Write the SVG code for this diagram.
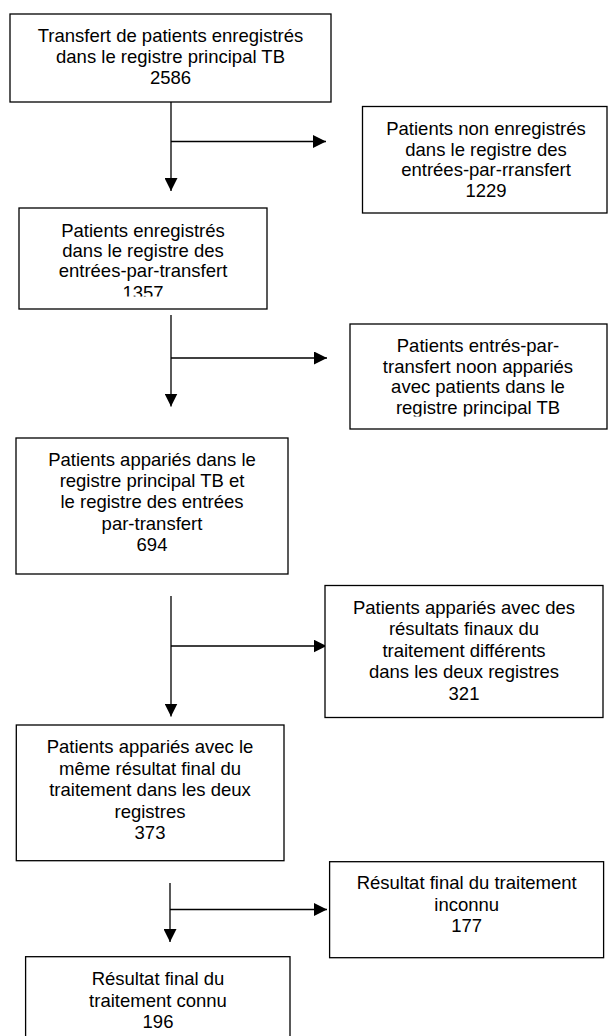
<svg xmlns="http://www.w3.org/2000/svg" width="608" height="1036" viewBox="0 0 608 1036">
<style>
.box{fill:#fff;stroke:#000;stroke-width:1.3}
.t{font-family:"Liberation Sans",Arial,sans-serif;font-size:18.5px;fill:#000;text-anchor:middle}
.c{fill:none;stroke:#000;stroke-width:1.3}
</style>
<defs>
<marker id="ah" markerWidth="13" markerHeight="13" refX="13" refY="6.5" orient="auto" markerUnits="userSpaceOnUse"><path d="M0,0 L13,6.5 L0,13 z" fill="#000"/></marker>
<clipPath id="clip3"><rect x="19" y="208" width="248" height="88.5"/></clipPath>
<clipPath id="clip4"><rect x="350" y="324" width="257" height="92.5"/></clipPath>
</defs>
<rect width="608" height="1036" fill="#fff"/>
<g id="connectors">
<path class="c" d="M171,102 V191" marker-end="url(#ah)"/>
<path class="c" d="M171,141.5 H326" marker-end="url(#ah)"/>
<path class="c" d="M171,315 V406.5" marker-end="url(#ah)"/>
<path class="c" d="M171,358 H327" marker-end="url(#ah)"/>
<path class="c" d="M171,596 V716.5" marker-end="url(#ah)"/>
<path class="c" d="M171,646 H326.5" marker-end="url(#ah)"/>
<path class="c" d="M170,883 V942" marker-end="url(#ah)"/>
<path class="c" d="M170,909.5 H327" marker-end="url(#ah)"/>
</g>
<g id="n1">
<rect class="box" x="10" y="14" width="321" height="88"/>
<text class="t"><tspan x="170.5" y="42">Transfert de patients enregistrés</tspan><tspan x="170.5" y="63">dans le registre principal TB</tspan><tspan x="170.5" y="84">2586</tspan></text>
</g>
<g id="n2">
<rect class="box" x="362.5" y="106.5" width="244.5" height="106.5"/>
<text class="t"><tspan x="486" y="135">Patients non enregistrés</tspan><tspan x="486" y="155.5">dans le registre des</tspan><tspan x="486" y="176">entrées-par-rransfert</tspan><tspan x="486" y="196.5">1229</tspan></text>
</g>
<g id="n3">
<rect class="box" x="19" y="208" width="248" height="101"/>
<text class="t" clip-path="url(#clip3)"><tspan x="143" y="236.7">Patients enregistrés</tspan><tspan x="143" y="257">dans le registre des</tspan><tspan x="143" y="277.3">entrées-par-transfert</tspan><tspan x="143" y="299">1357</tspan></text>
</g>
<g id="n4">
<rect class="box" x="350" y="324" width="257" height="105"/>
<text class="t" clip-path="url(#clip4)"><tspan x="478" y="352">Patients entrés-par-</tspan><tspan x="478" y="372.5">transfert noon appariés</tspan><tspan x="478" y="393">avec patients dans le</tspan><tspan x="478" y="413.5">registre principal TB</tspan></text>
</g>
<g id="n5">
<rect class="box" x="16" y="438" width="272" height="136"/>
<text class="t"><tspan x="152" y="465.5">Patients appariés dans le</tspan><tspan x="152" y="487">registre principal TB et</tspan><tspan x="152" y="508">le registre des entrées</tspan><tspan x="152" y="529.5">par-transfert</tspan><tspan x="152" y="551">694</tspan></text>
</g>
<g id="n6">
<rect class="box" x="325" y="585.5" width="278" height="132"/>
<text class="t"><tspan x="464" y="613.5">Patients appariés avec des</tspan><tspan x="464" y="635">résultats finaux du</tspan><tspan x="464" y="656.7">traitement différents</tspan><tspan x="464" y="678.3">dans les deux registres</tspan><tspan x="464" y="700">321</tspan></text>
</g>
<g id="n7">
<rect class="box" x="16.3" y="725" width="267.7" height="135.7"/>
<text class="t"><tspan x="150" y="753">Patients appariés avec le</tspan><tspan x="150" y="775">même résultat final du</tspan><tspan x="150" y="796">traitement dans les deux</tspan><tspan x="150" y="817.5">registres</tspan><tspan x="150" y="839">373</tspan></text>
</g>
<g id="n8">
<rect class="box" x="329.6" y="861.7" width="274" height="96"/>
<text class="t"><tspan x="466.7" y="889">Résultat final du traitement</tspan><tspan x="466.7" y="910.7">inconnu</tspan><tspan x="466.7" y="931.7">177</tspan></text>
</g>
<g id="n9">
<rect class="box" x="25.6" y="956.7" width="264.4" height="100"/>
<text class="t"><tspan x="158" y="985">Résultat final du</tspan><tspan x="158" y="1006.7">traitement connu</tspan><tspan x="158" y="1027.7">196</tspan></text>
</g>
</svg>
